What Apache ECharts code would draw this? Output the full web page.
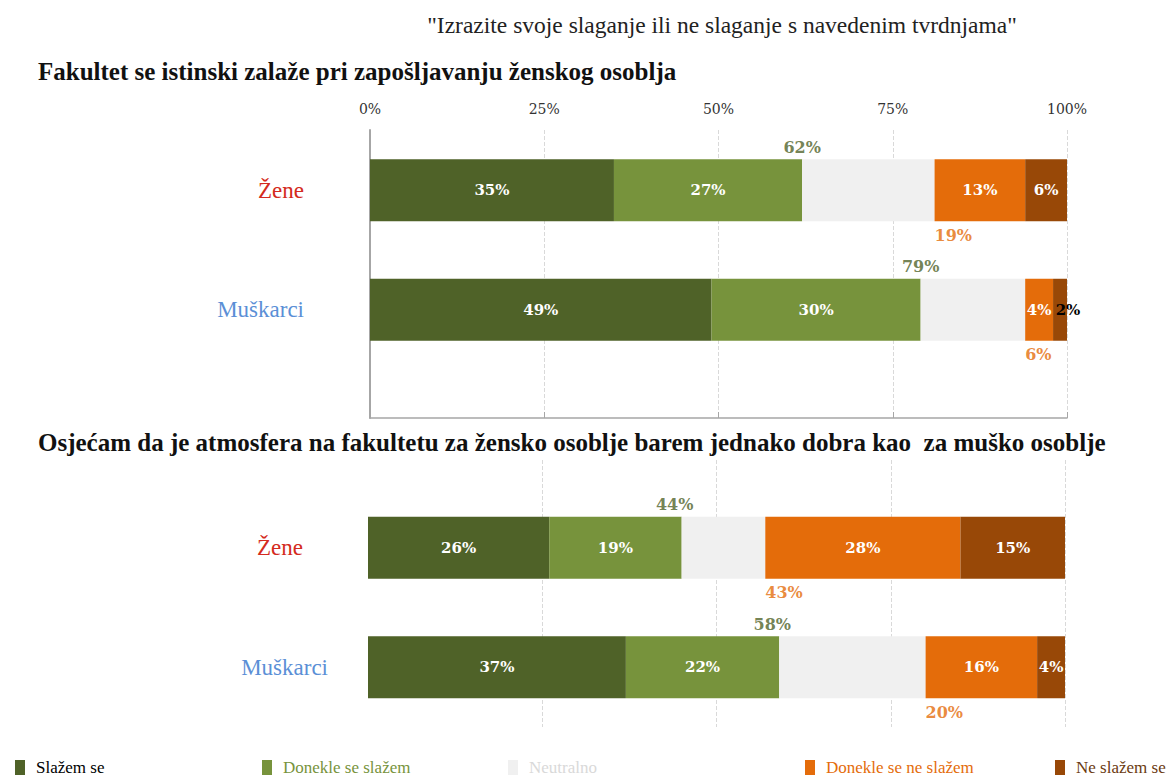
<!DOCTYPE html>
<html>
<head>
<meta charset="utf-8">
<script src="https://cdn.jsdelivr.net/npm/echarts@6/dist/echarts.min.js"></script>
<style>
  html, body { margin: 0; padding: 0; background: #fff; }
  #chart { width: 1175px; height: 778px; }
</style>
</head>
<body>
<div id="chart"></div>
<script>
(function() {
  // --- data ---
  var groups = ['Žene', 'Muškarci'];
  var seriesNames = ['Slažem se', 'Donekle se slažem', 'Neutralno', 'Donekle se ne slažem', 'Ne slažem se'];
  var colors = ['#4F6228', '#77933C', '#F0F0F0', '#E46C0A', '#984807'];

  // chart 1: Fakultet se istinski zalaže pri zapošljavanju ženskog osoblja
  var q1Agree = [35, 49];
  var q1PartAgree = [27, 30];
  var q1Neutral = [19, 15];
  var q1PartDisagree = [13, 4];
  var q1Disagree = [6, 2];
  var q1AgreeSum = [62, 79];
  var q1DisagreeSum = [19, 6];

  // chart 2: Osjećam da je atmosfera ...
  var q2Agree = [26, 37];
  var q2PartAgree = [19, 22];
  var q2Neutral = [12, 21];
  var q2PartDisagree = [28, 16];
  var q2Disagree = [15, 4];
  var q2AgreeSum = [44, 58];
  var q2DisagreeSum = [43, 20];

  var ticks = [0, 25, 50, 75, 100];

  var serif = 'DejaVu Serif';
  var gridLine = '#D9D9D9';
  var axisGray = '#A6A6A6';

  var chart = echarts.init(document.getElementById('chart'), null, { renderer: 'svg' });

  // category labels; zenePad shifts "Žene" left of the shared right edge
  function catAxis(idx, margin, zenePad) {
    return {
      type: 'category', gridIndex: idx, inverse: true,
      data: groups,
      axisLine: { show: false }, axisTick: { show: false },
      axisLabel: {
        margin: margin,
        formatter: function(v) { return v === groups[0] ? '{z|' + v + '}' : '{m|' + v + '}'; },
        rich: {
          z: { color: '#D42A20', fontFamily: 'Liberation Serif', fontSize: 23, padding: [0, zenePad, 0, 0] },
          m: { color: '#5B8FD6', fontFamily: 'Liberation Serif', fontSize: 23 }
        }
      }
    };
  }

  function barSeries(idx, values, stack) {
    return values.map(function(vals, i) {
      return {
        name: seriesNames[i], type: 'bar', stack: stack,
        xAxisIndex: idx, yAxisIndex: idx,
        barWidth: 62,
        itemStyle: { color: colors[i] },
        label: {
          show: i !== 2, position: 'inside', color: '#fff',
          fontFamily: serif, fontWeight: 'bold', fontSize: 15,
          formatter: '{c}%'
        },
        data: vals.slice()
      };
    });
  }

  function sumSeries(idx, agreeSum, disagreeSum) {
    return [{
      type: 'scatter', xAxisIndex: idx, yAxisIndex: idx, symbolSize: 1,
      itemStyle: { color: 'transparent' }, silent: true,
      label: {
        show: true, position: 'inside', offset: [0, -43],
        color: '#4F6228', fontFamily: serif, fontWeight: 'bold', fontSize: 16,
        formatter: function(p) { return agreeSum[p.dataIndex] + '%'; }
      },
      data: agreeSum.map(function(v, i) { return [v, i]; })
    }, {
      type: 'scatter', xAxisIndex: idx, yAxisIndex: idx, symbolSize: 1,
      itemStyle: { color: 'transparent' }, silent: true,
      label: {
        show: true, position: 'inside', offset: [0, 45], align: 'left',
        color: '#E46C0A', fontFamily: serif, fontWeight: 'bold', fontSize: 16,
        formatter: function(p) { return disagreeSum[p.dataIndex] + '%'; }
      },
      data: disagreeSum.map(function(v, i) { return [100 - v, i]; })
    }];
  }

  var s1 = barSeries(1, [q1Agree, q1PartAgree, q1Neutral, q1PartDisagree, q1Disagree], 'q1');
  // tiny 2% segment: dark label next to the bar end
  s1[4].data[1] = { value: q1Disagree[1], label: { color: '#000', offset: [8, 0] } };
  var s2 = barSeries(3, [q2Agree, q2PartAgree, q2Neutral, q2PartDisagree, q2Disagree], 'q2');

  var legendLefts = [10, 257, 503, 800, 1050];
  var legendColors = ['#000', '#77933C', '#D9D9D9', '#E46C0A', '#6B3A10'];
  var legends = seriesNames.map(function(n, i) {
    return {
      data: [n], left: legendLefts[i], top: 754, icon: 'rect',
      itemWidth: 10, itemHeight: 15, selectedMode: false,
      textStyle: { color: legendColors[i], fontFamily: 'Liberation Serif', fontSize: 17, padding: [0, 0, 0, 6] }
    };
  });

  chart.setOption({
    animation: false,
    title: [
      { text: '"Izrazite svoje slaganje ili ne slaganje s navedenim tvrdnjama"', left: 717, top: 8, textAlign: 'center',
        textStyle: { fontFamily: 'Liberation Sans Narrow', fontWeight: 'normal', fontSize: 23.5, color: '#222' } },
      { text: 'Fakultet se istinski zalaže pri zapošljavanju ženskog osoblja', left: 33, top: 54,
        textStyle: { fontFamily: 'Liberation Serif', fontWeight: 'bold', fontSize: 25, color: '#111' } },
      { text: 'Osjećam da je atmosfera na fakultetu za žensko osoblje barem jednako dobra kao  za muško osoblje', left: 33, top: 425,
        textStyle: { fontFamily: 'Liberation Serif', fontWeight: 'bold', fontSize: 25, color: '#111' } }
    ],
    legend: legends,
    grid: [
      { left: 370, right: 108, top: 130, height: 288 },
      { left: 370, right: 108, top: 130.5, height: 239 },
      { left: 368, right: 110, top: 460, height: 267 },
      { left: 368, right: 110, top: 488, height: 239 }
    ],
    xAxis: [
      { type: 'value', gridIndex: 0, position: 'top', min: 0, max: 100, interval: 25,
        axisLine: { show: true, lineStyle: { color: axisGray, width: 1.5 } },
        axisTick: { show: true, length: 6, lineStyle: { color: axisGray } },
        axisLabel: { formatter: '{value}%', color: '#333', fontFamily: serif, fontSize: 14, margin: 14,
          customValues: ticks },
        splitLine: { show: true, lineStyle: { color: gridLine, type: 'dashed' } } },
      { type: 'value', gridIndex: 1, min: 0, max: 100, show: false },
      { type: 'value', gridIndex: 2, min: 0, max: 100, interval: 25,
        axisLine: { show: false }, axisTick: { show: false }, axisLabel: { show: false },
        splitLine: { show: true, lineStyle: { color: ['transparent', gridLine, gridLine, gridLine, gridLine], type: 'dashed' } } },
      { type: 'value', gridIndex: 3, min: 0, max: 100, show: false }
    ],
    yAxis: [
      { type: 'value', gridIndex: 0, min: 0, max: 1,
        axisLine: { show: true, lineStyle: { color: axisGray, width: 2 } },
        axisTick: { show: false }, axisLabel: { show: false }, splitLine: { show: false } },
      catAxis(1, 66, 0),
      { type: 'value', gridIndex: 2, min: 0, max: 1, show: false },
      catAxis(3, 40, 25)
    ],
    series: s1.concat(sumSeries(1, q1AgreeSum, q1DisagreeSum), s2, sumSeries(3, q2AgreeSum, q2DisagreeSum))
  });
})();
</script>
</body>
</html>
